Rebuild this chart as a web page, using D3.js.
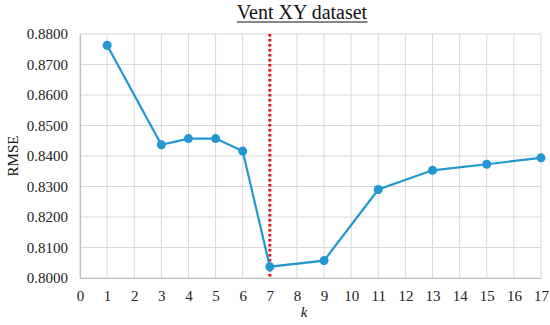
<!DOCTYPE html>
<html>
<head>
<meta charset="utf-8">
<script src="https://cdn.jsdelivr.net/npm/d3@7"></script>
<style>
  body { margin: 0; background: #fff; }
</style>
</head>
<body>
<div id="chart"></div>
<script>
// data
var kValues = [1, 3, 4, 5, 6, 7, 9, 11, 13, 15, 17];
var rmseValues = [0.8763, 0.8437, 0.8457, 0.8457, 0.8416, 0.8037, 0.8057, 0.8290, 0.8353, 0.8373, 0.8394];
var xTicks = d3.range(0, 18);
var yTicks = [0.80, 0.81, 0.82, 0.83, 0.84, 0.85, 0.86, 0.87, 0.88];
var bestK = 7;

const FONT = '"Liberation Serif"';
const W = 550, H = 325;
const margins = { top: 34, right: 9, bottom: 47, left: 80 };
const graphWidth = W - margins.left - margins.right;
const graphHeight = H - margins.top - margins.bottom;

const svg = d3.select("#chart").append("svg")
  .attr("width", W)
  .attr("height", H);

const graph = svg.append("g")
  .attr("transform", `translate(${margins.left},${margins.top})`);

const x = d3.scaleLinear().domain([0, 17]).range([0, graphWidth]);
const y = d3.scaleLinear().domain([0.80, 0.88]).range([graphHeight, 0]);

// grid
graph.append("g").selectAll("line").data(xTicks).enter().append("line")
  .attr("x1", d => x(d)).attr("x2", d => x(d))
  .attr("y1", 0).attr("y2", graphHeight)
  .attr("stroke", "#d9d9d9").attr("stroke-width", 1);

graph.append("g").selectAll("line").data(yTicks).enter().append("line")
  .attr("x1", 0).attr("x2", graphWidth)
  .attr("y1", d => y(d)).attr("y2", d => y(d))
  .attr("stroke", "#d9d9d9").attr("stroke-width", 1);

// axes
const xAxis = d3.axisBottom(x).tickValues(xTicks).tickSize(0).tickPadding(12).tickFormat(d3.format("d"));
const yAxis = d3.axisLeft(y).tickValues(yTicks).tickSize(0).tickPadding(12).tickFormat(d3.format(".4f"));

const xg = graph.append("g").attr("transform", `translate(0,${graphHeight})`).call(xAxis);
const yg = graph.append("g").call(yAxis);
[xg, yg].forEach(g => {
  g.select(".domain").attr("stroke", "#bfbfbf").attr("stroke-width", 1.2);
  g.selectAll("text")
    .style("font-family", FONT)
    .style("font-size", "15px")
    .attr("fill", "#222");
});

// red dotted line at best k
graph.append("line")
  .attr("x1", x(bestK)).attr("x2", x(bestK))
  .attr("y1", 0).attr("y2", graphHeight)
  .attr("stroke", "#e3141b").attr("stroke-width", 3)
  .attr("stroke-dasharray", "2.5,2.5");

// series
const line = d3.line().x((d, i) => x(kValues[i])).y(d => y(d));
graph.append("path")
  .datum(rmseValues)
  .attr("d", line)
  .attr("fill", "none")
  .attr("stroke", "#2196d0")
  .attr("stroke-width", 2.2);

graph.selectAll(".pt").data(rmseValues).enter().append("circle")
  .attr("class", "pt")
  .attr("cx", (d, i) => x(kValues[i]))
  .attr("cy", d => y(d))
  .attr("r", 4.5)
  .attr("fill", "#2196d0");

// title
const title = svg.append("text")
  .attr("x", 302).attr("y", 19)
  .attr("text-anchor", "middle")
  .style("font-family", FONT)
  .style("font-size", "20px")
  .attr("fill", "#111")
  .text("Vent XY dataset");
const tb = title.node().getBBox();
svg.append("line")
  .attr("x1", tb.x).attr("x2", tb.x + tb.width)
  .attr("y1", 22).attr("y2", 22)
  .attr("stroke", "#111").attr("stroke-width", 1.2);

// axis titles
svg.append("text")
  .attr("transform", `translate(18,${margins.top + graphHeight / 2}) rotate(-90)`)
  .attr("text-anchor", "middle")
  .style("font-family", FONT)
  .style("font-size", "15px")
  .attr("fill", "#111")
  .text("RMSE");

svg.append("text")
  .attr("x", 304).attr("y", 317)
  .attr("text-anchor", "middle")
  .style("font-family", FONT)
  .style("font-size", "15px")
  .style("font-style", "italic")
  .attr("fill", "#111")
  .text("k");
</script>
</body>
</html>
